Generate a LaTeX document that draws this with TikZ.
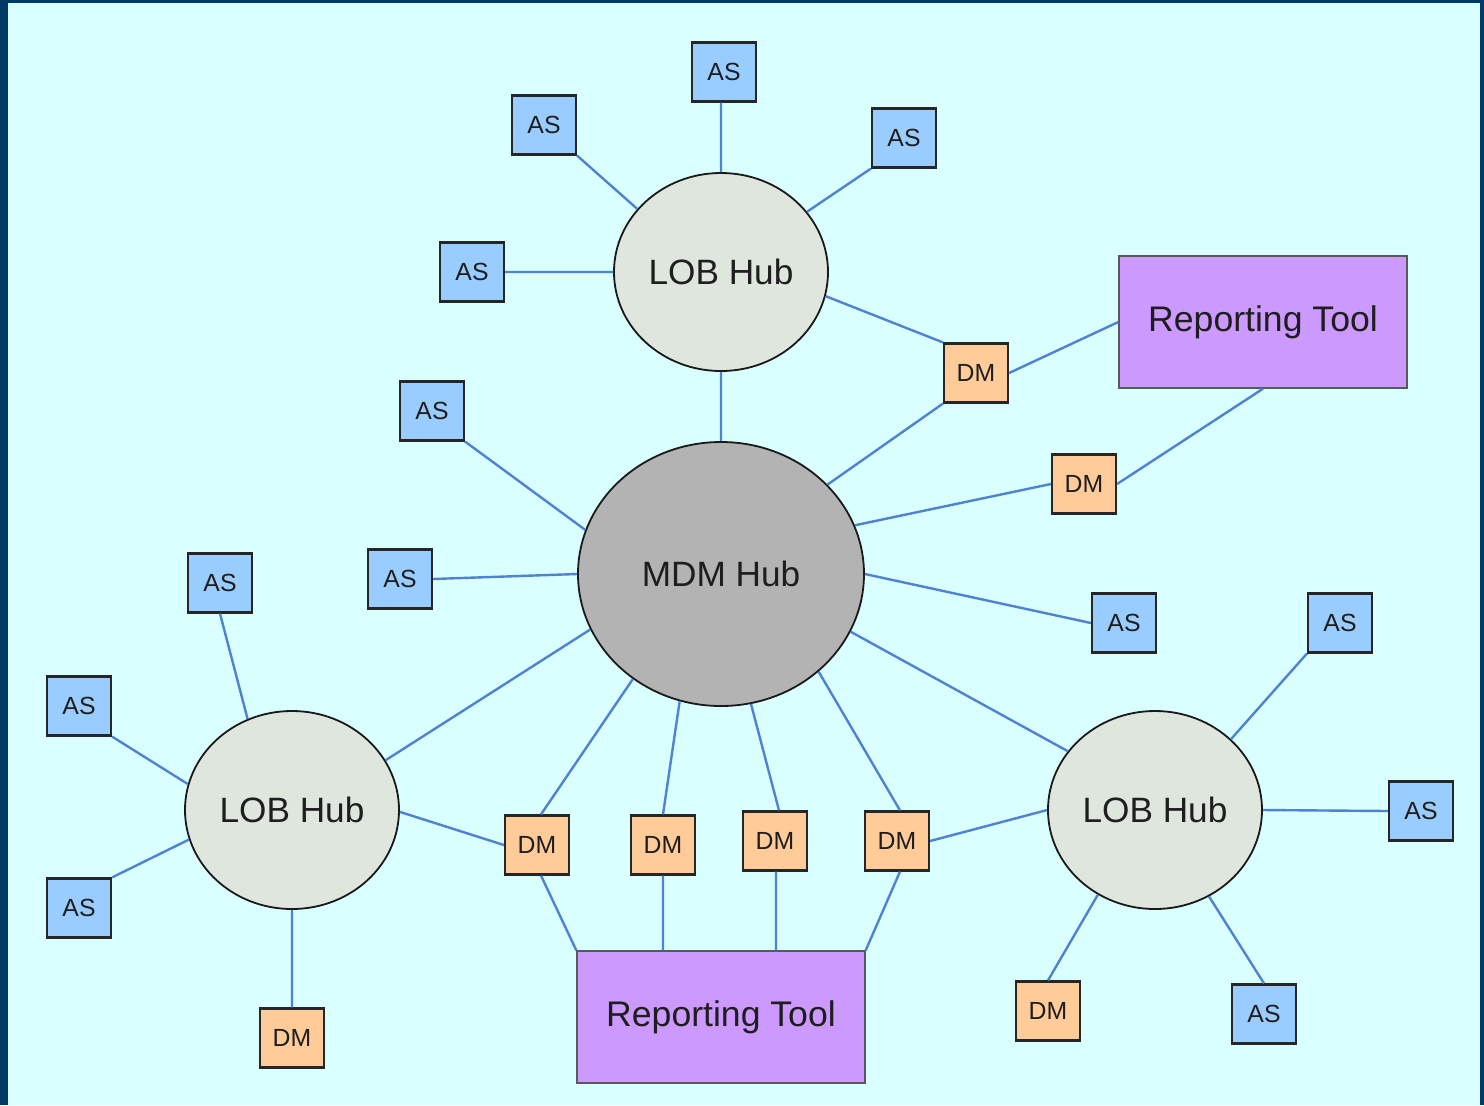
\documentclass[tikz,border=0pt]{standalone}
\usepackage{fontspec}
\setmainfont{Liberation Sans}
\usetikzlibrary{shapes.geometric,calc}
\definecolor{frame}{RGB}{0,58,102}
\definecolor{bgc}{RGB}{217,255,255}
\definecolor{asc}{RGB}{153,204,255}
\definecolor{dmc}{RGB}{255,204,153}
\definecolor{lobc}{RGB}{222,230,222}
\definecolor{mdmc}{RGB}{179,179,179}
\definecolor{rtc}{RGB}{204,153,255}
\definecolor{linkc}{RGB}{80,130,210}
\definecolor{txtc}{RGB}{30,30,30}
\tikzset{
  asbox/.style={draw=black!85, line width=1.1pt, fill=asc, minimum width=32pt, minimum height=29.5pt, inner sep=0pt, text=txtc, font=\fontsize{12.4}{13}\selectfont},
  dmbox/.style={asbox, fill=dmc},
  lobhub/.style={ellipse, draw=black!90, line width=0.9pt, fill=lobc, minimum width=107pt, minimum height=99pt, inner sep=0pt, text=txtc, font=\fontsize{17.6}{19}\selectfont},
  mdmhub/.style={lobhub, fill=mdmc, minimum width=143pt, minimum height=132pt},
  rtbox/.style={draw=black!65, line width=0.7pt, fill=rtc, minimum width=144pt, minimum height=66pt, inner sep=0pt, text=txtc, font=\fontsize{17.8}{19}\selectfont},
  link/.style={draw=linkc, line width=1.2pt}
}
\begin{document}
\begin{tikzpicture}[x=0.5pt,y=-0.5pt]
\fill[frame] (0,0) rectangle (1484,1105);
\fill[bgc] (8,3) rectangle (1480,1105);
\useasboundingbox (0,0) rectangle (1484,1105);

% hubs
\node[lobhub] (lobT) at (721,272) {LOB Hub};
\node[mdmhub] (mdm) at (721,574) {MDM Hub};
\node[lobhub] (lobL) at (292,810) {LOB Hub};
\node[lobhub] (lobR) at (1155,810) {LOB Hub};

% reporting tools
\node[rtbox] (rt1) at (1263,322) {Reporting Tool};
\node[rtbox] (rt2) at (721,1017) {Reporting Tool};

% AS boxes
\node[asbox] (as1) at (724,72) {AS};
\node[asbox] (as2) at (544,125) {AS};
\node[asbox] (as3) at (904,138) {AS};
\node[asbox] (as4) at (472,272) {AS};
\node[asbox] (as5) at (432,411) {AS};
\node[asbox] (as6) at (400,579) {AS};
\node[asbox] (as7) at (220,583) {AS};
\node[asbox] (as8) at (79,706) {AS};
\node[asbox] (as9) at (79,908) {AS};
\node[asbox] (as10) at (1124,623) {AS};
\node[asbox] (as11) at (1340,623) {AS};
\node[asbox] (as12) at (1421,811) {AS};
\node[asbox] (as13) at (1264,1014) {AS};

% DM boxes
\node[dmbox] (dm1) at (976,373) {DM};
\node[dmbox] (dm2) at (1084,484) {DM};
\node[dmbox] (dm3) at (537,845) {DM};
\node[dmbox] (dm4) at (663,845) {DM};
\node[dmbox] (dm5) at (775,841) {DM};
\node[dmbox] (dm6) at (897,841) {DM};
\node[dmbox] (dm7) at (292,1038) {DM};
\node[dmbox] (dm8) at (1048,1011) {DM};

% connectors
\path[link]
  (lobT.90) -- (lobT.90 |- as1.south)
  (as2.south east) -- (lobT.143)
  (as3.south west) -- (lobT.35)
  (as4.east) -- (lobT.180)
  (lobT.347) -- (dm1.north west)
  (dm1.east) -- (rt1.west)
  (dm1.south west) -- (mdm.40)
  (lobT.270) -- (mdm.90)
  (as5.south east) -- (mdm.162)
  (as6.east) -- (mdm.180)
  (dm2.west) -- (mdm.20)
  (dm2.east) -- (rt1.south)
  (mdm.0) -- (as10.west)
  (mdm.336.6) -- (lobR.146.9)
  (mdm.203.9) -- (lobL.28)
  (mdm.230.6) -- ([xshift=2pt]dm3.north)
  (mdm.252.4) -- (dm4.north)
  (mdm.283.4) -- ([xshift=2pt]dm5.north)
  (mdm.315.9) -- ([xshift=1.5pt]dm6.north)
  (as7.south) -- (lobL.116.3)
  (as8.south east) -- (lobL.166.7)
  (as9.north east) -- (lobL.196)
  (lobL.270) -- (dm7.north)
  (lobL.359) -- (dm3.west)
  ([xshift=2pt]dm3.south) -- (rt2.north west)
  (dm4.south) -- (dm4.south |- rt2.north)
  ([xshift=0.5pt]dm5.south) -- ([xshift=0.5pt]dm5.south |- rt2.north)
  ([xshift=1.5pt]dm6.south) -- (rt2.north east)
  (dm6.east) -- (lobR.180)
  (lobR.43) -- (as11.south west)
  (lobR.0) -- (as12.west)
  (lobR.302.9) -- (as13.north)
  (lobR.236) -- (dm8.north);
\end{tikzpicture}
\end{document}
